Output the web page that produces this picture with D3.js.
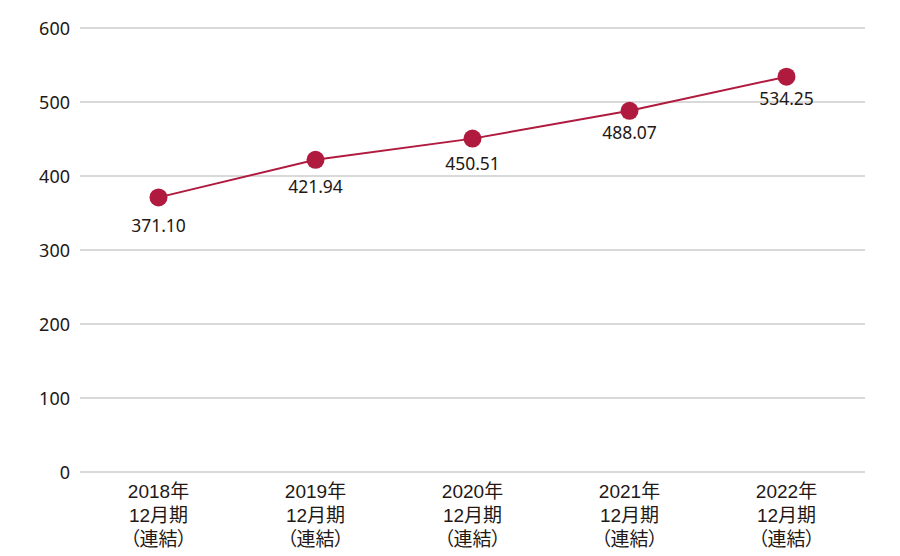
<!DOCTYPE html>
<html><head><meta charset="utf-8">
<script src="https://cdn.jsdelivr.net/npm/d3@7"></script>
<style>body{margin:0;background:#fff}svg{display:block}text{fill:#231815}
.num{font-family:"Noto Sans",sans-serif}
.cat{font-family:"Liberation Sans","Noto Sans CJK JP",sans-serif;font-feature-settings:"palt"}
</style>
</head><body>
<svg id="c" width="900" height="556"></svg>
<script>
const categories = [["2018年","12月期","（連結）"],["2019年","12月期","（連結）"],["2020年","12月期","（連結）"],["2021年","12月期","（連結）"],["2022年","12月期","（連結）"]];
const values = [371.10, 421.94, 450.51, 488.07, 534.25];
const yTicks = [0,100,200,300,400,500,600];

(function(){
const svg = d3.select("#c");
const mLeft = 80, mRight = 865, mTop = 28, mBottom = 472;
const x = d3.scalePoint().domain(d3.range(categories.length)).range([mLeft, mRight]).padding(0.5);
const y = d3.scaleLinear().domain([0,600]).range([mBottom, mTop]);
const color = "#b01a3e";
const labelDy = [35, 33, 31, 28, 28];

const g = svg.append("g");
g.selectAll("line.grid").data(yTicks).join("line")
  .attr("x1", mLeft).attr("x2", mRight)
  .attr("y1", d=>y(d)).attr("y2", d=>y(d))
  .attr("stroke", "#d9d9d9").attr("stroke-width", 2);
g.selectAll("text.yl").data(yTicks).join("text").attr("class","num")
  .attr("x", 70).attr("y", d=>y(d)+7)
  .attr("text-anchor","end").attr("font-size", 18).text(d=>d);

const lab = g.selectAll("g.catg").data(categories).join("g")
  .attr("transform",(d,i)=>`translate(${x(i)},0)`);
lab.each(function(d){
  d3.select(this).selectAll("text").data(d).join("text").attr("class","cat")
    .attr("x", 0).attr("y",(t,j)=>498 + j*24)
    .attr("text-anchor","middle").attr("font-size",19).text(t=>t);
});

const line = d3.line().x((d,i)=>x(i)).y(d=>y(d));
g.append("path").datum(values).attr("d", line).attr("fill","none").attr("stroke",color).attr("stroke-width",2);
g.selectAll("circle").data(values).join("circle")
  .attr("cx",(d,i)=>x(i)).attr("cy",d=>y(d)).attr("r",9).attr("fill",color);
g.selectAll("text.v").data(values).join("text").attr("class","num")
  .attr("x",(d,i)=>x(i)).attr("y",(d,i)=>y(d)+labelDy[i])
  .attr("text-anchor","middle").attr("font-size",17.5).text(d=>d.toFixed(2));
})();
</script>
</body></html>
